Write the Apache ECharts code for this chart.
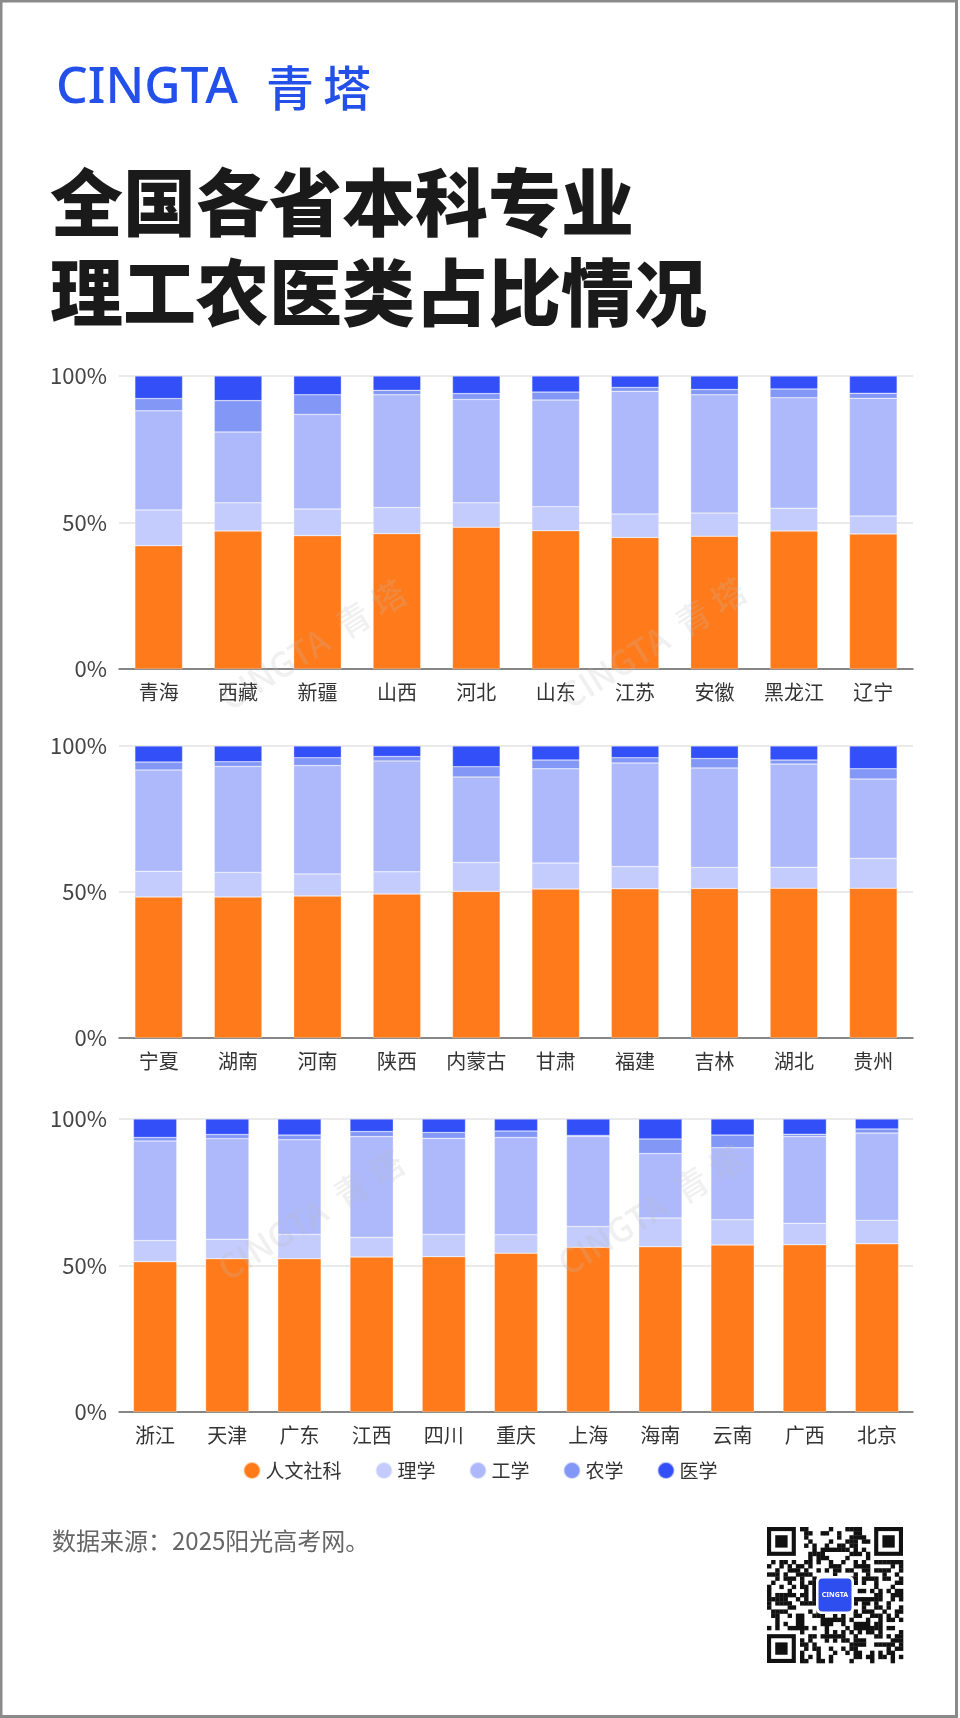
<!DOCTYPE html>
<html>
<head>
<meta charset="utf-8">
<script src="https://cdn.jsdelivr.net/npm/echarts@6/dist/echarts.min.js"></script>
<style>
  html, body { margin: 0; padding: 0; background: #fff; }
  #container { width: 960px; height: 1718px; }
</style>
</head>
<body>
<div id="container"></div>
<script>
// categories, one list per chart row
var provinces1 = ['青海', '西藏', '新疆', '山西', '河北', '山东', '江苏', '安徽', '黑龙江', '辽宁'];
var provinces2 = ['宁夏', '湖南', '河南', '陕西', '内蒙古', '甘肃', '福建', '吉林', '湖北', '贵州'];
var provinces3 = ['浙江', '天津', '广东', '江西', '四川', '重庆', '上海', '海南', '云南', '广西', '北京'];

// shares in %
var renwen1  = [42.1, 47.1, 45.5, 46.2, 48.4, 47.2, 44.9, 45.3, 47.1, 46.1];
var lixue1   = [12.2, 9.6, 9.1, 8.9, 8.3, 8.2, 8.0, 7.9, 7.8, 6.1];
var gongxue1 = [33.8, 24.2, 32.3, 38.5, 35.3, 36.4, 41.9, 40.4, 37.7, 40.2];
var nongxue1 = [4.2, 10.7, 6.7, 1.5, 2.0, 2.7, 1.3, 1.8, 3.0, 1.7];
var yixue1   = [7.7, 8.4, 6.4, 4.9, 6.0, 5.5, 3.9, 4.6, 4.4, 5.9];

var renwen2  = [48.3, 48.3, 48.6, 49.3, 50.2, 51.0, 51.1, 51.2, 51.3, 51.3];
var lixue2   = [8.8, 8.4, 7.6, 7.6, 9.9, 8.9, 7.6, 7.2, 7.2, 10.2];
var gongxue2 = [34.7, 36.3, 37.1, 38.0, 29.3, 32.3, 35.5, 34.1, 35.3, 27.2];
var nongxue2 = [2.7, 1.6, 2.7, 1.5, 3.5, 3.0, 1.8, 3.2, 1.4, 3.5];
var yixue2   = [5.5, 5.4, 4.0, 3.6, 7.1, 4.8, 4.0, 4.3, 4.8, 7.8];

var renwen3  = [51.3, 52.3, 52.3, 52.9, 53.0, 54.2, 56.2, 56.4, 57.0, 57.1, 57.4];
var lixue3   = [7.2, 6.7, 8.3, 6.7, 7.6, 6.3, 7.1, 9.8, 8.6, 7.3, 8.0];
var gongxue3 = [34.0, 34.3, 32.3, 34.4, 32.8, 33.2, 30.7, 22.0, 24.6, 29.6, 29.8];
var nongxue3 = [1.2, 1.4, 1.6, 1.7, 2.0, 2.2, 0.4, 5.0, 4.3, 0.8, 1.4];
var yixue3   = [6.3, 5.3, 5.5, 4.3, 4.6, 4.1, 5.6, 6.8, 5.5, 5.2, 3.4];

var subjects = ['人文社科', '理学', '工学', '农学', '医学'];
var yTicks = [0, 50, 100];

var colors = ['#FF7A1A', '#C3CCFC', '#AEB9FB', '#8397F6', '#3350F8'];
var cjk = '"Noto Sans CJK SC", "Noto Sans", sans-serif';

var dom = document.getElementById("container");
var myChart = echarts.init(dom, null, {renderer: 'canvas'});

var gridTops = [376, 746, 1119];
var gridHeights = [293, 292, 293];
var rows = [
  {cats: provinces1, data: [renwen1, lixue1, gongxue1, nongxue1, yixue1]},
  {cats: provinces2, data: [renwen2, lixue2, gongxue2, nongxue2, yixue2]},
  {cats: provinces3, data: [renwen3, lixue3, gongxue3, nongxue3, yixue3]}
];

var grids = [], xAxes = [], yAxes = [], series = [];
rows.forEach(function (row, i) {
  grids.push({left: 119, right: 47, top: gridTops[i], height: gridHeights[i]});
  xAxes.push({
    type: 'category',
    gridIndex: i,
    data: row.cats,
    axisLine: {lineStyle: {color: '#666', width: 1.5}},
    axisTick: {alignWithLabel: true, length: 5, lineStyle: {color: '#666', width: 1.5}},
    axisLabel: {color: '#333', fontSize: 20, fontFamily: cjk, margin: 13}
  });
  yAxes.push({
    type: 'value',
    gridIndex: i,
    min: yTicks[0],
    max: yTicks[yTicks.length - 1],
    interval: yTicks[1] - yTicks[0],
    axisLine: {show: false},
    axisTick: {show: false},
    splitLine: {lineStyle: {color: '#e3e3e3', width: 1.5}},
    axisLabel: {color: '#444', fontSize: 22, fontFamily: cjk, margin: 12, formatter: '{value}%'}
  });
  row.data.forEach(function (vals, k) {
    series.push({
      name: subjects[k],
      type: 'bar',
      stack: 'row' + i,
      xAxisIndex: i,
      yAxisIndex: i,
      barWidth: '60%',
      itemStyle: {color: colors[k], borderColor: 'rgba(255,255,255,0.6)', borderWidth: 0.5},
      data: vals
    });
  });
});

// decorative QR-like block (not data)
function qrBlock(x0, y0, size) {
  var n = 33, m = size / n, els = [];
  function finder(cx, cy) {
    els.push({type: 'rect', shape: {x: x0 + cx * m, y: y0 + cy * m, width: 7 * m, height: 7 * m}, style: {fill: '#111'}});
    els.push({type: 'rect', shape: {x: x0 + (cx + 1) * m, y: y0 + (cy + 1) * m, width: 5 * m, height: 5 * m}, style: {fill: '#fff'}});
    els.push({type: 'rect', shape: {x: x0 + (cx + 2) * m, y: y0 + (cy + 2) * m, width: 3 * m, height: 3 * m}, style: {fill: '#111'}});
  }
  var seed = 20250617;
  for (var r = 0; r < n; r++) {
    for (var c = 0; c < n; c++) {
      var inFinder = (r < 8 && c < 8) || (r < 8 && c > n - 9) || (r > n - 9 && c < 8);
      if (inFinder) continue;
      seed = (seed * 1103515245 + 12345) & 0x7fffffff;
      if ((seed >> 16) % 100 < 48) {
        els.push({type: 'rect', shape: {x: x0 + c * m, y: y0 + r * m, width: m + 0.3, height: m + 0.3}, style: {fill: '#111'}});
      }
    }
  }
  finder(0, 0); finder(n - 7, 0); finder(0, n - 7);
  els.push({type: 'rect', shape: {x: x0 + size / 2 - 19, y: y0 + size / 2 - 19, width: 38, height: 38, r: 5}, style: {fill: '#fff'}});
  els.push({type: 'rect', shape: {x: x0 + size / 2 - 16.5, y: y0 + size / 2 - 16.5, width: 33, height: 33, r: 4}, style: {fill: '#2F4EF0'}});
  els.push({type: 'text', x: x0 + size / 2, y: y0 + size / 2, style: {text: 'CINGTA', fill: '#fff', fontSize: 7, fontWeight: 'bold', fontFamily: 'Noto Sans', textAlign: 'center', textVerticalAlign: 'middle'}});
  return els;
}

function watermark(cx, cy) {
  return {
    type: 'text', x: cx, y: cy, rotation: 32 * Math.PI / 180, z: 100,
    style: {text: 'CINGTA  青 塔', fill: 'rgba(185,185,185,0.22)', fontSize: 34, fontFamily: cjk, fontWeight: 500, textAlign: 'center', textVerticalAlign: 'middle'}
  };
}

var graphics = [
  {type: 'rect', z: 200, shape: {x: 1, y: 1, width: 955.5, height: 1715.5}, style: {fill: 'none', stroke: '#8a8a8a', lineWidth: 3}},
  {type: 'text', x: 56, y: 89, style: {text: 'CINGTA', fill: '#2350E8', fontSize: 50, fontWeight: 500, fontFamily: '"Noto Sans", sans-serif', textVerticalAlign: 'middle'}},
  {type: 'text', x: 266, y: 88, style: {text: '青', fill: '#2350E8', fontSize: 48, fontWeight: 500, fontFamily: cjk, textVerticalAlign: 'middle'}},
  {type: 'text', x: 323, y: 88, style: {text: '塔', fill: '#2350E8', fontSize: 48, fontWeight: 500, fontFamily: cjk, textVerticalAlign: 'middle'}},
  {type: 'text', x: 50, y: 202, style: {text: '全国各省本科专业', fill: '#1a1a1a', fontSize: 73, fontWeight: 900, fontFamily: cjk, textVerticalAlign: 'middle'}},
  {type: 'text', x: 50, y: 292, style: {text: '理工农医类占比情况', fill: '#1a1a1a', fontSize: 73, fontWeight: 900, fontFamily: cjk, textVerticalAlign: 'middle'}},
  {type: 'text', x: 52, y: 1541, style: {text: '数据来源：2025阳光高考网。', fill: '#666', fontSize: 24, fontFamily: cjk, textVerticalAlign: 'middle'}},
  watermark(313, 645), watermark(653, 643),
  watermark(311, 1215), watermark(651, 1210)
].concat(qrBlock(767, 1527, 136));

option = null;
option = {
  backgroundColor: '#fff',
  animation: false,
  textStyle: {fontFamily: cjk},
  legend: {
    data: subjects,
    left: 'center',
    top: 1456,
    icon: 'circle',
    itemWidth: 17,
    itemHeight: 17,
    itemGap: 33,
    textStyle: {color: '#333', fontSize: 19, fontFamily: cjk}
  },
  grid: grids,
  xAxis: xAxes,
  yAxis: yAxes,
  series: series,
  graphic: graphics
};
if (option && typeof option === "object") {
  myChart.setOption(option, true);
}
</script>
</body>
</html>
